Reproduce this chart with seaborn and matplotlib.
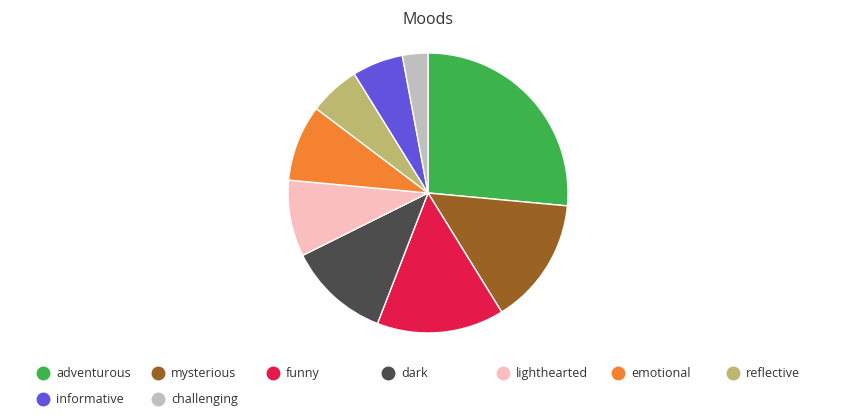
import matplotlib
matplotlib.use("Agg")
import matplotlib.pyplot as plt
from matplotlib.lines import Line2D
import seaborn as sns

categories = ["adventurous", "mysterious", "funny", "dark", "lighthearted",
              "emotional", "reflective", "informative", "challenging"]
values = [9, 5, 5, 4, 3, 3, 2, 2, 1]
colors = ["#3cb44b", "#9a6324", "#e6194b", "#4d4d4d", "#fabebe",
          "#f58231", "#bcb86f", "#6352dd", "#bfbfbf"]

sns.set_theme(style="white")
plt.rcParams['font.family'] = ['Open Sans', 'DejaVu Sans']

W, H = 856, 419
fig = plt.figure(figsize=(W / 100, H / 100), dpi=100)
fig.patch.set_facecolor("white")

# pie axes: center (428,193), radius 140 px
cx, cy, r = 428, 193, 140
ax = fig.add_axes([(cx - r) / W, 1 - (cy + r) / H, 2 * r / W, 2 * r / H])
palette = sns.color_palette(colors)
ax.pie(values, colors=palette, startangle=90, counterclock=False,
       wedgeprops=dict(edgecolor="white", linewidth=1), radius=1)
ax.set_xlim(-1, 1)
ax.set_ylim(-1, 1)
ax.set_aspect("equal")
ax.axis("off")

fig.text(428 / W, 1 - 20 / H, "Moods", ha="center", va="center",
         fontsize=11.5, color="#333333")

# legend grid
for i, (cat, col) in enumerate(zip(categories, palette)):
    col_i, row_i = i % 7, i // 7
    x = 43 + 115 * col_i
    y = 373 + 26 * row_i
    fig.add_artist(Line2D([x / W], [1 - y / H], marker="o", markersize=9,
                          color=col, linestyle="none",
                          transform=fig.transFigure))
    fig.text((x + 13) / W, 1 - y / H, cat, ha="left", va="center",
             fontsize=9, color="#333333")

fig.savefig("out.png", dpi=100, facecolor="white")
